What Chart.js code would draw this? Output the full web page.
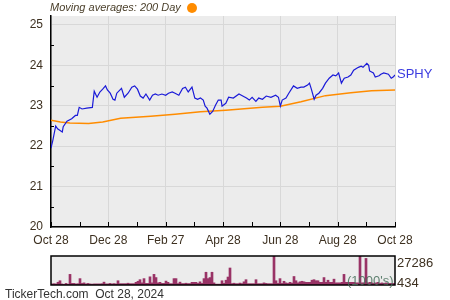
<!DOCTYPE html>
<html>
<head>
<meta charset="utf-8">
<script src="https://cdn.jsdelivr.net/npm/chart.js@4.4.1/dist/chart.umd.min.js"></script>
<style>
  body { margin: 0; background: #fff; font-family: "Liberation Sans", Arial, sans-serif; }
  #wrap { position: relative; width: 450px; height: 300px; overflow: hidden; }
  canvas { position: absolute; left: 0; }
  .txt { position: absolute; white-space: nowrap; line-height: 1; }
</style>
</head>
<body>
<div id="wrap">
  <canvas id="priceChart" width="450" height="250" style="top:0"></canvas>
  <canvas id="volChart" width="450" height="50" style="top:250px"></canvas>
  <div class="txt" style="left:50px;top:2px;font-size:11px;font-style:italic;color:#4a3f2a">Moving averages: 200 Day</div>
  <div style="position:absolute;left:187px;top:3px;width:10px;height:10px;border-radius:50%;background:#ff8c00"></div>
  <div class="txt" style="left:397px;top:67px;font-size:13px;color:#3c3ce0">SPHY</div>
  <div class="txt" style="left:397px;top:256px;font-size:13px;color:#3d3020">27286</div>
  <div class="txt" style="left:397px;top:276px;font-size:13px;color:#3d3020">434</div>
  <div class="txt" style="left:347px;top:274px;font-size:13px;color:rgba(70,110,90,0.85)">(1000's)</div>
  <div class="txt" style="left:5px;top:288px;font-size:12px;color:#333">TickerTech.com&nbsp; Oct 28, 2024</div>
</div>
<script>
/* ======================================
   DATA
====================================== */
// x = days since Oct 28, 2023
const tickDays = [0, 61, 122, 183, 244, 305, 366];
const tickLabels = ["Oct 28", "Dec 28", "Feb 27", "Apr 28", "Jun 28", "Aug 28", "Oct 28"];
const priceTicks = [20, 21, 22, 23, 24, 25];

const priceDays = [0,2,5,7,12,13,17,22,26,28,30,33,38,44,46,49,52,55,58,60,63,66,68,70,75,78,82,86,89,92,
  95,98,101,105,108,111,114,118,122,125,129,132,136,140,143,146,150,153,156,159,162,164,166,169,172,175,178,181,182,186,
  189,194,200,204,208,211,214,218,221,225,229,234,239,242,244,246,250,253,258,262,266,269,273,275,277,280,282,285,289,292,
  296,300,303,306,309,312,316,319,322,327,330,332,336,338,339,343,345,349,351,354,359,362,364,366];
const prices = [21.95,22.15,22.50,22.43,22.35,22.48,22.62,22.68,22.76,22.76,22.96,22.92,22.94,22.96,23.36,23.21,23.34,23.41,23.49,23.39,
  23.31,23.16,23.14,23.31,23.43,23.21,23.31,23.46,23.49,23.41,23.24,23.19,23.29,23.14,23.26,23.29,23.26,23.29,23.26,23.31,
  23.34,23.31,23.26,23.43,23.46,23.34,23.46,23.19,23.16,23.19,23.14,22.99,22.94,22.79,22.86,23.01,23.14,23.14,22.99,23.06,
  23.21,23.19,23.29,23.24,23.19,23.14,23.21,23.11,23.19,23.16,23.24,23.21,23.26,23.21,22.99,23.14,23.19,23.31,23.49,23.43,
  23.46,23.46,23.51,23.56,23.41,23.16,23.26,23.31,23.43,23.56,23.68,23.76,23.74,23.81,23.56,23.68,23.71,23.76,23.88,23.95,
  23.98,23.95,24.05,24.00,23.86,23.81,23.71,23.74,23.78,23.81,23.78,23.68,23.71,23.76];

const maDays = [0, 10, 20, 40, 55, 74, 106, 132, 159, 186, 225, 244, 266, 292, 319, 341, 366];
const maValues = [22.64, 22.60, 22.57, 22.56, 22.60, 22.69, 22.74, 22.79, 22.85, 22.89, 22.96, 22.99, 23.10, 23.25, 23.32, 23.37, 23.39];

// daily volume, thousands
const volumes = [1000,1200,1000,2600,4000,1000,600,1500,800,10000,1500,1500,1000,1200,6000,1500,2000,1000,1500,1000,
  800,1000,1000,1000,1000,1200,2700,1000,1000,1500,1000,1300,1000,4000,1200,1200,1200,1200,1700,1200,
  1200,1200,2500,3500,5000,2000,6000,1500,1500,7700,2000,10000,7000,2000,2500,1500,1500,3700,2500,1200,
  1200,6000,6000,1300,2700,1300,1300,1700,1300,1300,2500,2500,2500,1500,3000,1500,6000,12000,6000,7000,
  12000,2000,800,800,800,4000,1500,4500,7500,16000,1300,1700,1200,1200,1800,1300,3000,5000,1200,1200,
  1200,1200,5000,1200,1200,1200,2000,1500,1200,1200,1200,27000,4000,1500,6000,1500,3500,2000,1500,2500,
  1800,8000,4000,2000,3000,3500,3000,2500,2500,2500,4500,5000,4000,4000,2500,2500,7000,2500,4500,2500,
  2500,5500,2000,2000,2000,2500,10000,2500,2500,2500,2500,2500,2000,2000,27286,2000,2000,25000,2000,2500,
  2000,1500,2000,2500,1500,2000,1500,2000,1500,1500,1500,1500];

/* ======================================
   PLUGINS
====================================== */
const plotBg = {
  id: "plotBg",
  beforeDraw(chart) {
    const { ctx, chartArea: a } = chart;
    ctx.save();
    ctx.fillStyle = "#ececec";
    ctx.fillRect(a.left, a.top, a.right - a.left, a.bottom - a.top);
    ctx.restore();
  }
};

// small inner tick marks on the axes
const innerTicks = {
  id: "innerTicks",
  afterDatasetsDraw(chart) {
    const { ctx, chartArea: a, scales } = chart;
    ctx.save();
    ctx.strokeStyle = "#000";
    ctx.lineWidth = 1;
    for (let i = 0; i < tickDays.length; i++) {
      const xs = [tickDays[i]];
      if (i < tickDays.length - 1) xs.push((tickDays[i] + tickDays[i + 1]) / 2);
      xs.forEach(d => {
        const x = Math.round(scales.x.getPixelForValue(d)) + 0.5;
        ctx.beginPath(); ctx.moveTo(x, a.bottom); ctx.lineTo(x, a.bottom - 5); ctx.stroke();
      });
    }
    for (let v = 20.5; v < 25.2; v += 1) {
      const y = Math.round(scales.y.getPixelForValue(v)) + 0.5;
      ctx.beginPath(); ctx.moveTo(a.left, y); ctx.lineTo(a.left + 3, y); ctx.stroke();
    }
    ctx.restore();
  }
};

const volFrame = {
  id: "volFrame",
  afterDraw(chart) {
    const { ctx, chartArea: a } = chart;
    ctx.save();
    ctx.strokeStyle = "#000";
    ctx.lineWidth = 1.5;
    ctx.strokeRect(a.left, a.top, a.right - a.left, a.bottom - a.top);
    ctx.restore();
  }
};

/* ======================================
   PRICE CHART
====================================== */
new Chart(document.getElementById("priceChart"), {
  type: "line",
  data: {
    datasets: [
      {
        label: "SPHY",
        data: priceDays.map((d, i) => ({ x: d, y: prices[i] })),
        borderColor: "#1a1ad8",
        borderWidth: 1.2,
        pointRadius: 0,
        tension: 0
      },
      {
        label: "200 Day",
        data: maDays.map((d, i) => ({ x: d, y: maValues[i] })),
        borderColor: "#ff8c00",
        borderWidth: 1.5,
        pointRadius: 0,
        tension: 0
      }
    ]
  },
  plugins: [plotBg, innerTicks],
  options: {
    responsive: false,
    animation: false,
    layout: { padding: { top: 16, right: 55, left: 0, bottom: 0 } },
    plugins: { legend: { display: false }, tooltip: { enabled: false } },
    scales: {
      x: {
        type: "linear",
        min: 0,
        max: 366,
        afterBuildTicks: s => { s.ticks = tickDays.map(v => ({ value: v })); },
        afterFit: s => { s.height = 23; },
        ticks: {
          callback: (v) => tickLabels[tickDays.indexOf(v)],
          color: "#3d3020",
          font: { family: "Liberation Sans", size: 12 },
          padding: 6,
          maxRotation: 0
        },
        grid: { color: "#d8d8d8", lineWidth: 1, drawTicks: false },
        border: { color: "#000", width: 1.5 }
      },
      y: {
        min: 20,
        max: 25.22,
        afterBuildTicks: s => { s.ticks = priceTicks.map(v => ({ value: v })); },
        afterFit: s => { s.width = 51; },
        ticks: {
          color: "#3d3020",
          font: { family: "Liberation Sans", size: 12 },
          padding: 8
        },
        grid: { color: "#d8d8d8", lineWidth: 1, drawTicks: false },
        border: { color: "#000", width: 1.5 }
      }
    }
  }
});

/* ======================================
   VOLUME CHART
====================================== */
new Chart(document.getElementById("volChart"), {
  type: "bar",
  data: {
    labels: volumes.map((_, i) => i),
    datasets: [{
      data: volumes,
      backgroundColor: "#993366",
      borderWidth: 0,
      categoryPercentage: 1,
      barPercentage: 1
    }]
  },
  plugins: [plotBg, volFrame],
  options: {
    responsive: false,
    animation: false,
    layout: { padding: { top: 6, right: 55, left: 51, bottom: 15 } },
    plugins: { legend: { display: false }, tooltip: { enabled: false } },
    scales: {
      x: { display: false },
      y: { display: false, min: 0, max: 27286 }
    }
  }
});
</script>
</body>
</html>
